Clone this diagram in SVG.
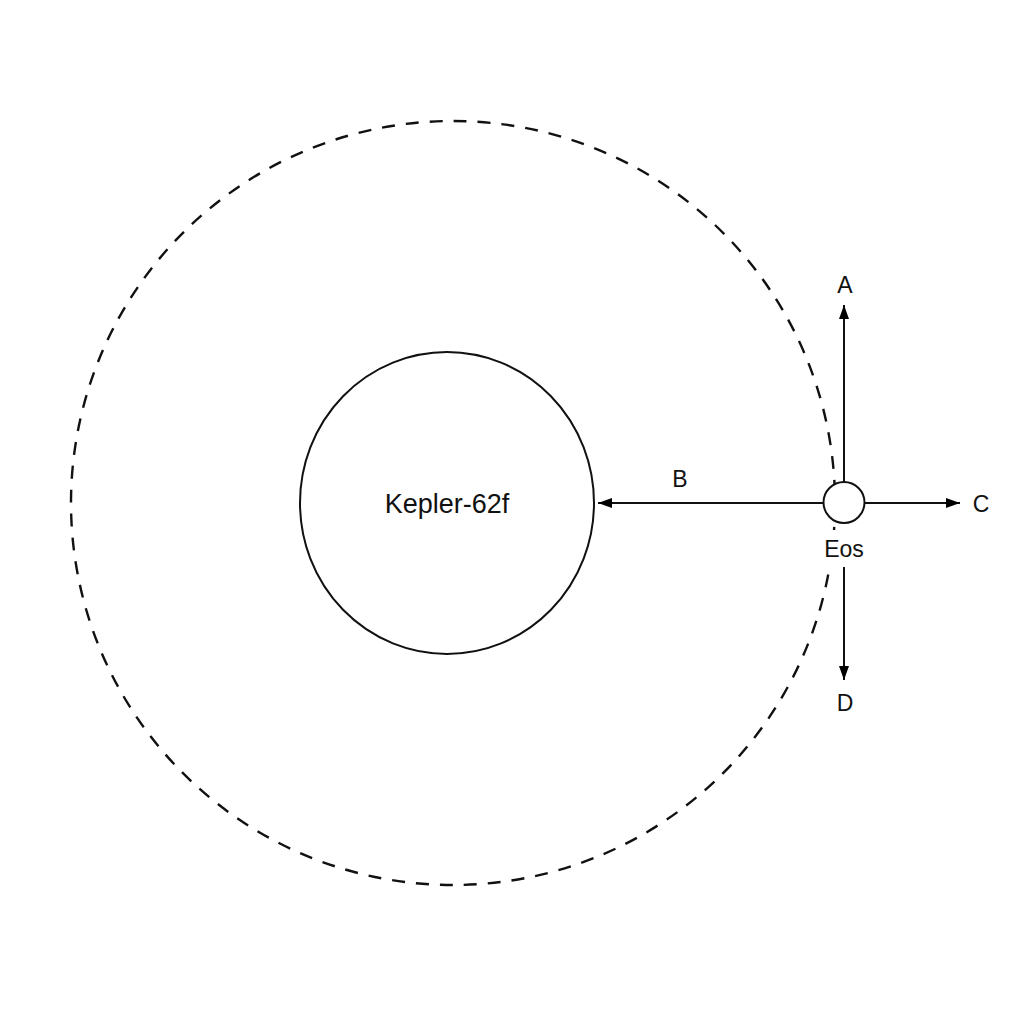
<svg xmlns="http://www.w3.org/2000/svg" width="1024" height="1024" viewBox="0 0 1024 1024">
<defs>
<marker id="arr" viewBox="0 0 14 10" refX="14" refY="5" markerWidth="14" markerHeight="10" markerUnits="userSpaceOnUse" orient="auto">
<path d="M0,0 L14,5 L0,10 Z" fill="#000"/>
</marker>
<style>
.t{font-family:"Liberation Sans",Arial,sans-serif;fill:#111;text-anchor:middle}
.c{fill:none;stroke:#111;stroke-width:2}
.e{stroke:#111;stroke-width:2;fill:none;marker-end:url(#arr)}
</style>
</defs>
<rect width="1024" height="1024" fill="#fff"/>
<g id="orbit">
<circle cx="453" cy="503" r="382" fill="none" stroke="#111" stroke-width="2.4" stroke-dasharray="13 11"/>
</g>
<g id="kepler">
<ellipse class="c" cx="447" cy="503" rx="147" ry="151" fill="#fff"/>
<text class="t" x="447" y="513" font-size="27">Kepler-62f</text>
</g>
<g id="connectors">
<line class="e" x1="844" y1="482" x2="844" y2="305"/>
<line class="e" x1="823" y1="503" x2="598" y2="503"/>
<line class="e" x1="865" y1="503" x2="960" y2="503"/>
<line class="e" x1="844" y1="567" x2="844" y2="680"/>
</g>
<g id="eos">
<circle cx="844" cy="502.5" r="20.5" fill="#fff" stroke="#111" stroke-width="2"/>
<rect x="816" y="530" width="56" height="34" fill="#fff"/>
<text class="t" x="844" y="557" font-size="23">Eos</text>
</g>
<g id="labels">
<text class="t" x="845" y="293" font-size="23">A</text>
<text class="t" x="680" y="487" font-size="23">B</text>
<text class="t" x="981" y="512" font-size="23">C</text>
<text class="t" x="845" y="711" font-size="23">D</text>
</g>
</svg>
